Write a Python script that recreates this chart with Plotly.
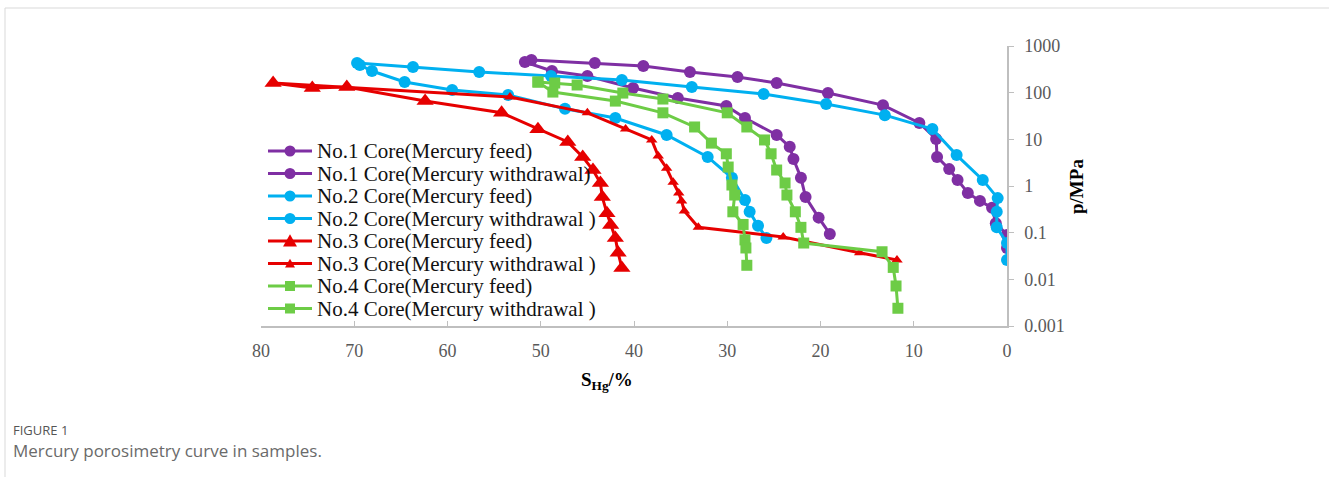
import plotly.graph_objects as go

# ---------------- data (S_Hg %, p MPa) ----------------
c1_feed_s = [51.0, 44.2, 39.0, 34.0, 28.9, 24.7, 19.2, 13.3, 9.4, 7.6, 7.5, 6.2, 5.3, 4.2, 2.9, 1.6, 1.2, 0.0, 0.0]
c1_feed_p = [500, 432, 373, 277, 217, 161, 98, 54, 22.4, 10.2, 4.2, 2.3, 1.35, 0.71, 0.48, 0.34, 0.16, 0.089, 0.047]
c1_wd_s = [51.7, 48.8, 45.0, 40.1, 35.3, 30.1, 28.1, 24.7, 23.3, 22.9, 22.1, 21.6, 20.2, 19.0]
c1_wd_p = [454, 291, 228, 126, 77, 52, 28.7, 12.4, 6.9, 3.8, 1.5, 0.58, 0.21, 0.094]

c2_feed_s = [69.7, 63.7, 56.6, 48.9, 41.3, 33.8, 26.1, 19.4, 13.1, 8.0, 5.4, 2.6, 1.0, 1.1, 1.1, 0.0, 0.0]
c2_feed_p = [432, 355, 277, 228, 187, 132, 94, 57, 33, 16.6, 4.6, 1.35, 0.55, 0.28, 0.13, 0.06, 0.026]
c2_wd_s = [69.4, 68.1, 64.6, 59.5, 53.5, 47.4, 42.0, 36.5, 32.1, 29.5, 28.1, 27.6, 26.7, 25.8]
c2_wd_p = [391, 291, 169, 114, 89, 45, 28.7, 12.4, 4.2, 1.5, 0.5, 0.28, 0.14, 0.077]

c3_feed_s = [78.7, 74.5, 70.8, 62.4, 54.2, 50.3, 47.1, 45.5, 44.4, 43.6, 43.4, 42.9, 42.5, 42.0, 41.7, 41.3]
c3_feed_p = [161, 126, 132, 66, 37, 16.5, 8.8, 4.2, 2.2, 1.16, 0.58, 0.26, 0.146, 0.077, 0.037, 0.0175]
c3_wd_s = [78.7, 53.3, 45.0, 40.9, 38.1, 37.4, 36.5, 35.8, 35.2, 34.9, 34.6, 33.1, 24.0, 15.8, 11.8]
c3_wd_p = [161, 81, 37, 16.7, 9.7, 4.4, 2.4, 1.2, 0.71, 0.48, 0.29, 0.13, 0.081, 0.037, 0.026]

c4_feed_s = [50.3, 48.5, 46.1, 41.2, 36.9, 30.0, 27.9, 26.0, 25.3, 24.7, 23.8, 23.6, 22.7, 22.1, 21.8, 13.4, 12.2, 11.9, 11.7]
c4_feed_p = [169, 161, 146, 98, 73, 37, 18.4, 9.7, 4.9, 2.2, 1.16, 0.64, 0.28, 0.13, 0.06, 0.039, 0.018, 0.0072, 0.0024]
c4_wd_s = [50.3, 48.7, 42.0, 36.9, 33.5, 31.7, 30.1, 29.9, 29.5, 29.2, 29.4, 28.3, 28.1, 28.0, 27.9]
c4_wd_p = [169, 103, 66, 37, 18.4, 8.3, 4.9, 2.55, 1.05, 0.64, 0.28, 0.15, 0.07, 0.047, 0.02]

x_ticks = [80, 70, 60, 50, 40, 30, 20, 10, 0]
y_tickvals = [1000, 100, 10, 1, 0.1, 0.01, 0.001]
y_ticktext = ["1000", "100", "10", "1", "0.1", "0.01", "0.001"]

names = [
    "No.1 Core(Mercury feed)", "No.1 Core(Mercury withdrawal)",
    "No.2 Core(Mercury feed)", "No.2 Core(Mercury withdrawal )",
    "No.3 Core(Mercury feed)", "No.3 Core(Mercury withdrawal )",
    "No.4 Core(Mercury feed)", "No.4 Core(Mercury withdrawal )",
]

PURPLE = "#7f2fa3"
BLUE = "#00b0f0"
RED = "#e60000"
GREEN = "#6dcc46"

# (x, y, colour, symbol, plot marker size, legend marker size)
series = [
    (c1_feed_s, c1_feed_p, PURPLE, "circle", 12, 11),
    (c1_wd_s, c1_wd_p, PURPLE, "circle", 12, 11),
    (c2_feed_s, c2_feed_p, BLUE, "circle", 12, 11),
    (c2_wd_s, c2_wd_p, BLUE, "circle", 12, 11),
    (c3_feed_s, c3_feed_p, RED, "triangle-up", 15, 14),
    (c3_wd_s, c3_wd_p, RED, "triangle-up", 10, 10),
    (c4_feed_s, c4_feed_p, GREEN, "square", 11, 10),
    (c4_wd_s, c4_wd_p, GREEN, "square", 11, 10),
]

fig = go.Figure()
for (xs, ys, col, sym, sz, _), nm in zip(series, names):
    fig.add_trace(go.Scatter(
        x=xs, y=ys, name=nm, mode="lines+markers",
        line=dict(color=col, width=3),
        marker=dict(color=col, symbol=sym, size=sz),
    ))

W, H = 1329, 477
L, R, T, B = 261, 1007, 46, 326
PW, PH = R - L, B - T

def px_x(px):
    return (px - L) / PW

def px_y(py):
    return (B - py) / PH

# ---------------- hand-built legend (keeps the reference's tight row spacing) ----------------
shapes = [
    dict(type="line", xref="paper", yref="paper", x0=px_x(5), x1=px_x(1329),
         y0=px_y(8), y1=px_y(8), line=dict(color="#d9d9d9", width=1)),
    dict(type="line", xref="paper", yref="paper", x0=px_x(5), x1=px_x(5),
         y0=px_y(8), y1=px_y(477), line=dict(color="#d9d9d9", width=1)),
]
annotations = []
row0, row_gap = 151.0, 22.5
lx0, lx1, lxc, ltext = 268, 312, 290, 315
for i, ((_, _, col, sym, _, lsz), nm) in enumerate(zip(series, names)):
    ry = row0 + i * row_gap
    shapes.append(dict(type="line", xref="paper", yref="paper",
                       x0=px_x(lx0), x1=px_x(lx1), y0=px_y(ry), y1=px_y(ry),
                       line=dict(color=col, width=3)))
    h = lsz / 2
    if sym == "circle":
        shapes.append(dict(type="circle", xref="paper", yref="paper",
                           x0=px_x(lxc - h), x1=px_x(lxc + h), y0=px_y(ry + h), y1=px_y(ry - h),
                           fillcolor=col, line=dict(color=col, width=0)))
    elif sym == "square":
        shapes.append(dict(type="rect", xref="paper", yref="paper",
                           x0=px_x(lxc - h), x1=px_x(lxc + h), y0=px_y(ry + h), y1=px_y(ry - h),
                           fillcolor=col, line=dict(color=col, width=0)))
    else:
        p = "M {:.5f} {:.5f} L {:.5f} {:.5f} L {:.5f} {:.5f} Z".format(
            px_x(lxc - h), px_y(ry + h * 0.8),
            px_x(lxc + h), px_y(ry + h * 0.8),
            px_x(lxc), px_y(ry - h * 0.95))
        shapes.append(dict(type="path", xref="paper", yref="paper", path=p,
                           fillcolor=col, line=dict(color=col, width=0)))
    annotations.append(dict(text=nm, xref="paper", yref="paper",
                            x=px_x(ltext), y=px_y(ry), xanchor="left", yanchor="middle",
                            showarrow=False,
                            font=dict(family="Liberation Serif", size=21, color="#111111")))

annotations += [
    dict(text="<b>S<sub>Hg</sub>/%</b>", xref="paper", yref="paper",
         x=px_x(607), y=px_y(381), xanchor="center", yanchor="middle",
         showarrow=False, font=dict(family="Liberation Serif", size=19, color="#000000")),
    dict(text="<b>p/MPa</b>", xref="paper", yref="paper", textangle=-90,
         x=px_x(1076), y=px_y(187), xanchor="center", yanchor="middle",
         showarrow=False, font=dict(family="Liberation Serif", size=19, color="#000000")),
    dict(text="FIGURE 1", xref="paper", yref="paper",
         x=px_x(12), y=px_y(440), xanchor="left", yanchor="bottom", borderpad=0,
         showarrow=False, font=dict(family="Open Sans", size=13, color="#555555")),
    dict(text="Mercury porosimetry curve in samples.", xref="paper", yref="paper",
         x=px_x(12), y=px_y(438), xanchor="left", yanchor="top", borderpad=0,
         showarrow=False, font=dict(family="Open Sans", size=17, color="#6a6a6a")),
]

fig.update_layout(
    width=W, height=H,
    margin=dict(l=L, r=W - R, t=T, b=H - B, pad=0),
    paper_bgcolor="white", plot_bgcolor="white",
    showlegend=False,
    xaxis=dict(
        range=[80, 0], autorange=False,
        tickvals=x_ticks, ticks="inside", ticklen=5, tickcolor="#bfbfbf",
        showline=True, linecolor="#bfbfbf", linewidth=1.5,
        showgrid=False, zeroline=False, ticklabelstandoff=8,
        tickfont=dict(family="Liberation Serif", size=18, color="#595959"),
    ),
    yaxis=dict(
        type="log", range=[-3, 3], autorange=False, side="right",
        tickvals=y_tickvals, ticktext=y_ticktext,
        ticks="outside", ticklen=5, tickcolor="#bfbfbf",
        showline=True, linecolor="#bfbfbf", linewidth=1.5,
        showgrid=False, zeroline=False, ticklabelstandoff=7,
        tickfont=dict(family="Liberation Serif", size=18, color="#595959"),
    ),
    annotations=annotations,
    shapes=shapes,
)

fig.write_html("out.html")
